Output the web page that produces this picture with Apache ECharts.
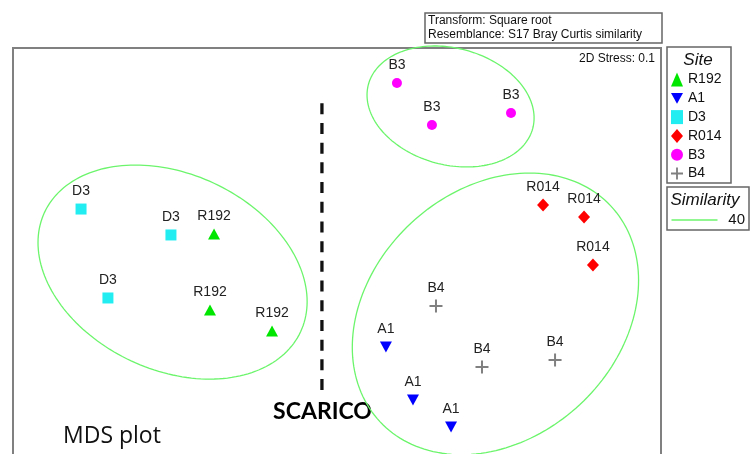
<!DOCTYPE html>
<html>
<head>
<meta charset="utf-8">
<script src="https://cdn.jsdelivr.net/npm/echarts@6/dist/echarts.min.js"></script>
<style>
html,body{margin:0;padding:0;background:#fff;}
#chart{width:750px;height:454px;}
</style>
</head>
<body>
<div id="chart"></div>
<script>
// ---- Data (MDS coordinates) ----
const sites = ['R192', 'A1', 'D3', 'R014', 'B3', 'B4'];
const siteColors = ['#00E600', '#0000FF', '#22EEF2', '#FF0000', '#FF00FF', '#808080'];
const ptsR192 = [[-0.759, 0.052], [-0.784, -0.417], [-0.401, -0.547]];
const ptsA1   = [[0.302, -0.646], [0.469, -0.973], [0.704, -1.140]];
const ptsD3   = [[-1.580, 0.206], [-1.025, 0.046], [-1.414, -0.343]];
const ptsR014 = [[1.272, 0.231], [1.525, 0.157], [1.580, -0.140]];
const ptsB3   = [[0.370, 0.984], [0.586, 0.725], [1.074, 0.799]];
const ptsB4   = [[0.611, -0.393], [0.895, -0.769], [1.346, -0.726]];
const sitePoints = [ptsR192, ptsA1, ptsD3, ptsR014, ptsB3, ptsB4];

// similarity (40) contours: centre x, centre y, semi-axis a, semi-axis b, angle (deg)
const ellipseCx = [-1.015, 0.701, 0.978];
const ellipseCy = [-0.183, 0.839, -0.441];
const ellipseA = [0.872, 0.525, 0.975];
const ellipseB = [0.605, 0.360, 0.765];
const ellipseAngle = [-25, -15, 43];

// dashed divider
const dividerX = [-0.093, -0.093];
const dividerY = [0.859, -0.911];

// visible axis range of the MDS plot
const xRange = [-2, 2];
const yRange = [-1.306, 1.2];

const stressText = '2D Stress: 0.1';
const similarityLevel = '40';

// ---- Styles ----
const symbols = [
  'triangle',
  'path://M0,0L10,0L5,9Z',
  'rect',
  'diamond',
  'circle',
  'path://M5.5,0H7.5V5.5H13V7.5H7.5V13H5.5V7.5H0V5.5H5.5Z'
];
const symbolSizes = [[12, 11], [12, 11], 11, [12, 13], 10, 13];
const labelFont = '"Liberation Sans", Arial, sans-serif';
const ellipseColor = '#6CF56C';

const chart = echarts.init(document.getElementById('chart'), null, {renderer: 'canvas'});

const series = [];
sites.forEach(function (s, i) {
  series.push({
    name: s,
    type: 'scatter',
    data: sitePoints[i],
    symbol: symbols[i],
    symbolSize: symbolSizes[i],
    itemStyle: {color: siteColors[i], opacity: 1},
    label: {
      show: true,
      formatter: s,
      position: 'inside',
      offset: [0, -17.5],
      color: '#222',
      fontSize: 14,
      fontFamily: labelFont
    },
    emphasis: {disabled: true},
    z: 5
  });
});

const ellipseData = ellipseCx.map(function (cx, i) {
  return [cx, ellipseCy[i], ellipseA[i], ellipseB[i], ellipseAngle[i]];
});

series.push({
  type: 'custom',
  name: 'contour',
  data: ellipseData,
  encode: {x: 0, y: 1},
  silent: true,
  clip: false,
  z: 2,
  renderItem: function (params, api) {
    const cx = api.value(0), cy = api.value(1), a = api.value(2), b = api.value(3);
    const phi = api.value(4) * Math.PI / 180;
    const pts = [];
    for (let k = 0; k < 180; k++) {
      const t = k / 180 * Math.PI * 2;
      const x = cx + a * Math.cos(t) * Math.cos(phi) - b * Math.sin(t) * Math.sin(phi);
      const y = cy + a * Math.cos(t) * Math.sin(phi) + b * Math.sin(t) * Math.cos(phi);
      pts.push(api.coord([x, y]));
    }
    return {
      type: 'polygon',
      shape: {points: pts},
      style: {fill: 'none', stroke: ellipseColor, lineWidth: 1.3}
    };
  }
});

series.push({
  type: 'line',
  name: 'divider',
  data: dividerX.map(function (x, i) { return [x, dividerY[i]]; }),
  symbol: 'none',
  silent: true,
  lineStyle: {color: '#111', width: 3.3, type: [11, 8.7]},
  z: 3
});

chart.setOption({
  animation: false,
  backgroundColor: '#ffffff',
  grid: {
    show: false,
    left: 13, top: 48, right: 89, bottom: 0
  },
  xAxis: {type: 'value', min: xRange[0], max: xRange[1], show: false},
  yAxis: {type: 'value', min: yRange[0], max: yRange[1], show: false},
  legend: {
    data: sites,
    orient: 'vertical',
    left: 671, top: 72.5,
    itemWidth: 12, itemHeight: 14,
    itemGap: 4.8,
    padding: 0,
    selectedMode: false,
    textStyle: {fontSize: 14, fontFamily: labelFont, color: '#111', lineHeight: 14}
  },
  graphic: [
    {type: 'polyline', shape: {points: [[13, 470], [13, 48], [661, 48], [661, 470]]},
     style: {fill: 'none', stroke: '#808080', lineWidth: 2}},
    {type: 'rect', shape: {x: 425, y: 13, width: 237, height: 30},
     style: {fill: '#fff', stroke: '#666', lineWidth: 1.5}},
    {type: 'text', x: 428, y: 20.5,
     style: {text: 'Transform: Square root', font: '12px "Liberation Sans", Arial, sans-serif', fill: '#111', verticalAlign: 'middle'}},
    {type: 'text', x: 428, y: 34.5,
     style: {text: 'Resemblance: S17 Bray Curtis similarity', font: '12px "Liberation Sans", Arial, sans-serif', fill: '#111', verticalAlign: 'middle'}},
    {type: 'text', x: 655, y: 59,
     style: {text: stressText, font: '12px "Liberation Sans", Arial, sans-serif', fill: '#111', align: 'right', verticalAlign: 'middle'}},
    {type: 'rect', shape: {x: 667, y: 47, width: 64, height: 136},
     style: {fill: 'none', stroke: '#666', lineWidth: 1.5}},
    {type: 'text', x: 698, y: 60,
     style: {text: 'Site', font: 'italic 17px "Liberation Sans", Arial, sans-serif', fill: '#111', align: 'center', verticalAlign: 'middle'}},
    {type: 'rect', shape: {x: 667, y: 187, width: 82, height: 43},
     style: {fill: 'none', stroke: '#666', lineWidth: 1.5}},
    {type: 'text', x: 670.5, y: 200,
     style: {text: 'Similarity', font: 'italic 17px "Liberation Sans", Arial, sans-serif', fill: '#111', verticalAlign: 'middle'}},
    {type: 'line', shape: {x1: 671.5, y1: 220, x2: 717.5, y2: 220},
     style: {stroke: ellipseColor, lineWidth: 1.3}},
    {type: 'text', x: 745, y: 220,
     style: {text: similarityLevel, font: '15px "Liberation Sans", Arial, sans-serif', fill: '#111', align: 'right', verticalAlign: 'middle'}},
    {type: 'text', x: 322.5, y: 412,
     style: {text: 'SCARICO', font: 'bold 23px Lato, "Open Sans", sans-serif', fill: '#000', align: 'center', verticalAlign: 'middle'}},
    {type: 'text', x: 63, y: 436,
     style: {text: 'MDS plot', font: '23px "Open Sans", Lato, sans-serif', fill: '#111', verticalAlign: 'middle'}}
  ],
  series: series
});
</script>
</body>
</html>
